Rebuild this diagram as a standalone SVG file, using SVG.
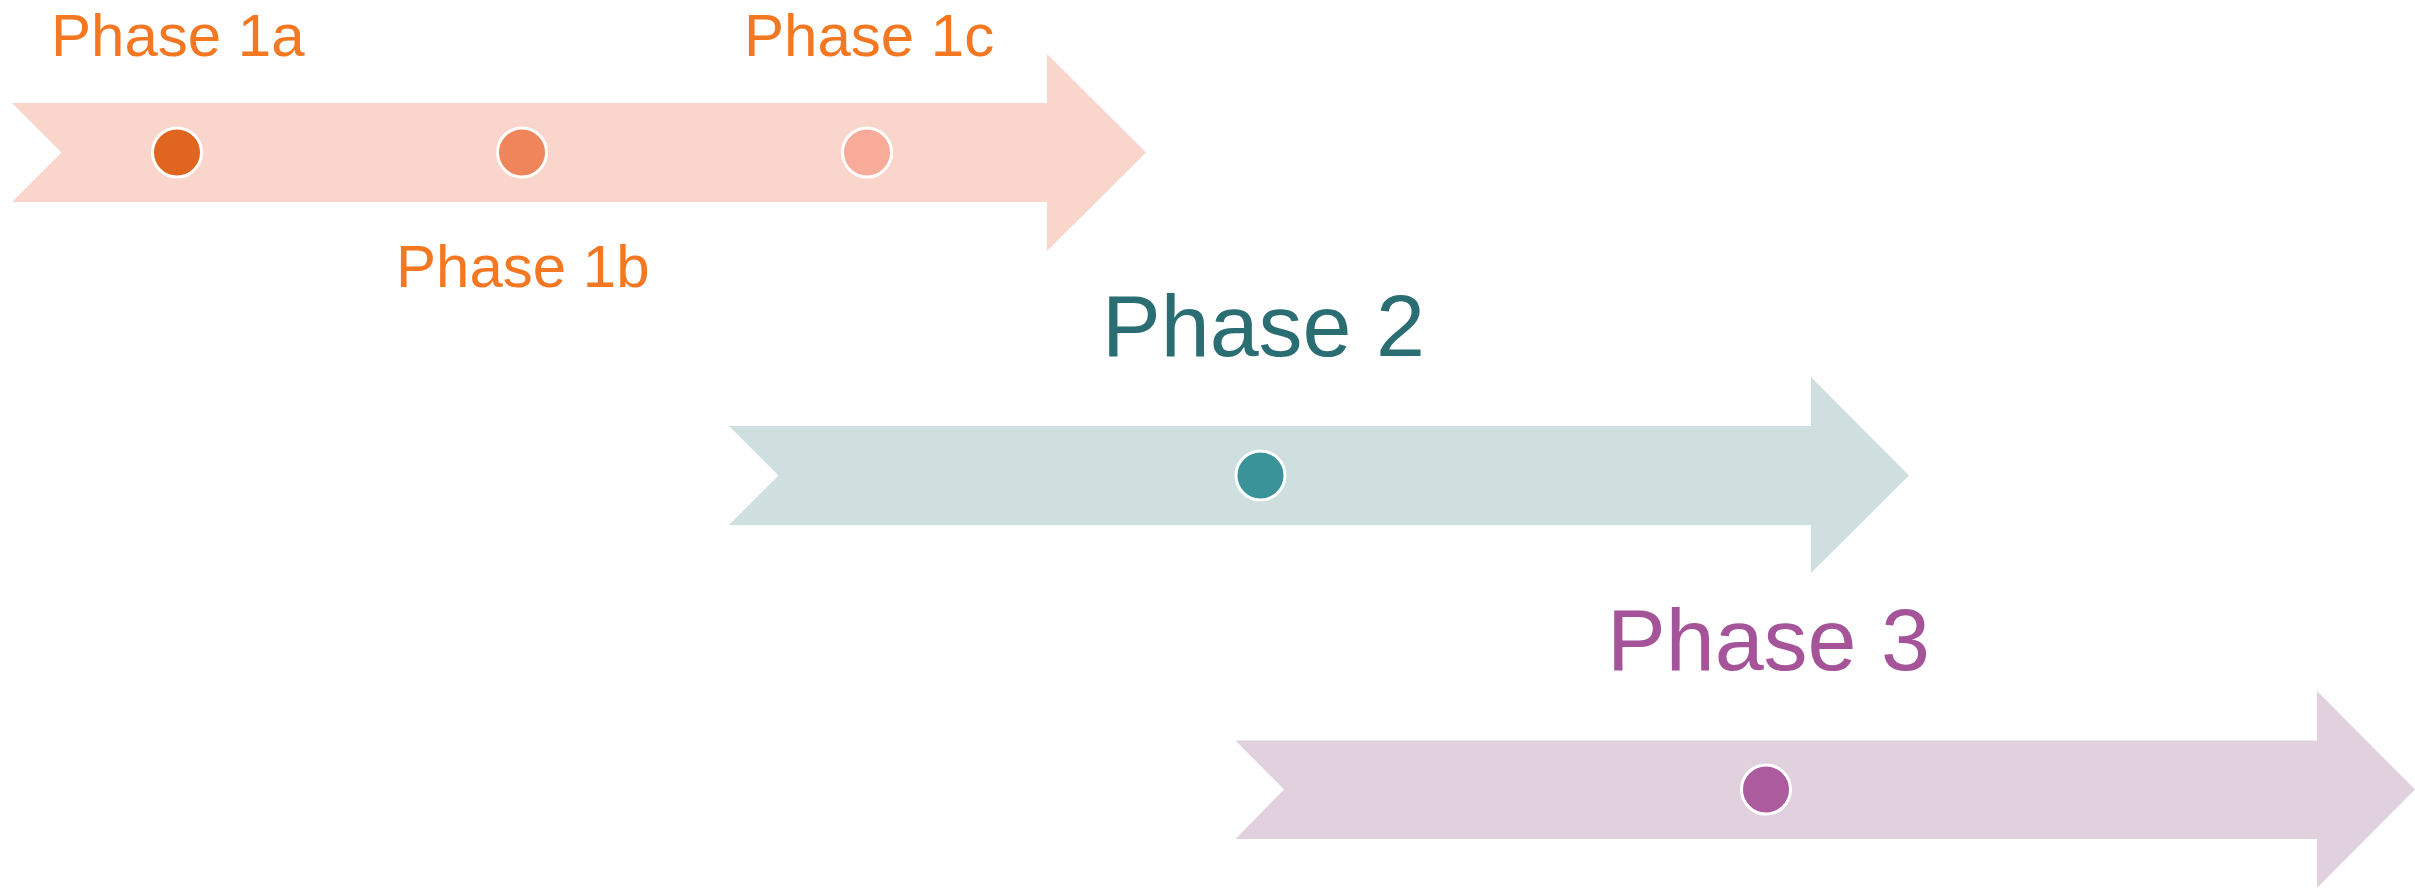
<svg xmlns="http://www.w3.org/2000/svg" width="2415" height="888" viewBox="0 0 2415 888">
<style>
.lbl{font-family:"Liberation Sans",Arial,sans-serif;}
.dot{stroke:#FFFFFF;stroke-width:3;}
</style>
<rect x="0" y="0" width="2415" height="888" fill="#FFFFFF"/>
<g id="phase1">
<polygon points="12,103 1047,103 1047,54 1146,152.5 1047,251 1047,202 12,202 61.5,152.5" fill="#FAD5CC"/>
<circle class="dot" cx="177" cy="152.5" r="24.5" fill="#E0651E"/>
<circle class="dot" cx="522" cy="152.5" r="24.5" fill="#F0845A"/>
<circle class="dot" cx="867" cy="152.5" r="24.5" fill="#F7AB98"/>
<text class="lbl" x="51" y="55.5" font-size="60" fill="#F47721">Phase 1a</text>
<text class="lbl" x="396" y="287" font-size="60" fill="#F47721">Phase 1b</text>
<text class="lbl" x="744" y="55.5" font-size="60" fill="#F47721">Phase 1c</text>
</g>
<g id="phase2">
<polygon points="729,426 1811,426 1811,377 1909,475.5 1811,573 1811,525 729,525 778.5,475.5" fill="#CFDEDF"/>
<circle class="dot" cx="1260.5" cy="475.5" r="24.5" fill="#3A9398"/>
<text class="lbl" x="1102" y="356" font-size="88" fill="#2A6E73">Phase 2</text>
</g>
<g id="phase3">
<polygon points="1235.5,740.5 2317,740.5 2317,691 2415,789.5 2317,888 2317,839 1235.5,839 1284,789.5" fill="#E1D1DF"/>
<circle class="dot" cx="1766" cy="789.5" r="24.5" fill="#AB5B9E"/>
<text class="lbl" x="1607" y="670" font-size="88" fill="#A5549A">Phase 3</text>
</g>
<g id="connectors"></g>
</svg>
